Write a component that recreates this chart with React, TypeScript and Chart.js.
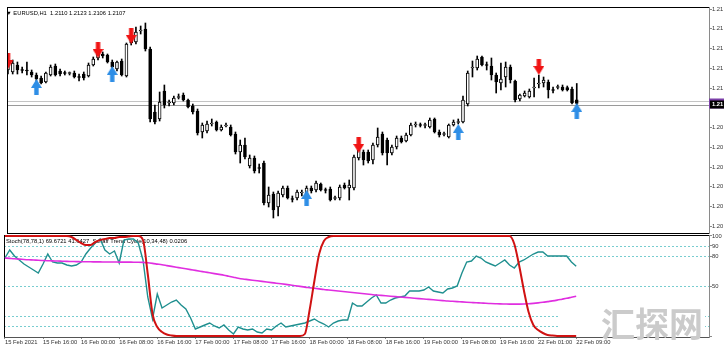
import React, { useEffect, useRef } from 'react';
import { Chart, registerables } from 'chart.js';
Chart.register(...registerables);

const FONT = "'Liberation Sans', Arial, sans-serif";

const opens = [
  1.21338, 1.21322, 1.21378, 1.21338, 1.21338, 1.21322, 1.21298, 1.21274, 1.21242, 1.21298,
  1.21370, 1.21330, 1.21314, 1.21310, 1.21314, 1.21282, 1.21306, 1.21290, 1.21378, 1.21434,
  1.21466, 1.21458, 1.21402, 1.21346, 1.21410, 1.21290, 1.21594, 1.21562, 1.21650, 1.21666,
  1.21506, 1.21002, 1.20946, 1.21170, 1.21074, 1.21074, 1.21118, 1.21138, 1.21098, 1.21050,
  1.21010, 1.20842, 1.20850, 1.20906, 1.20922, 1.20858, 1.20890, 1.20882, 1.20826, 1.20682,
  1.20738, 1.20570, 1.20634, 1.20554, 1.20594, 1.20274, 1.20346, 1.20242, 1.20338, 1.20394,
  1.20306, 1.20314, 1.20354, 1.20338, 1.20394, 1.20378, 1.20426, 1.20378, 1.20386, 1.20310,
  1.20314, 1.20418, 1.20394, 1.20394, 1.20634, 1.20682, 1.20682, 1.20618, 1.20738, 1.20826,
  1.20778, 1.20674, 1.20722, 1.20794, 1.20770, 1.20818, 1.20898, 1.20898, 1.20894, 1.20882,
  1.20946, 1.20842, 1.20822, 1.20802, 1.20898, 1.20918, 1.20922, 1.21066, 1.21354, 1.21354,
  1.21442, 1.21378, 1.21370, 1.21298, 1.21234, 1.21282, 1.21362, 1.21250, 1.21106, 1.21130,
  1.21122, 1.21194, 1.21226, 1.21234, 1.21242, 1.21178, 1.21198, 1.21202, 1.21198, 1.21186,
  1.21100,
];
const highs = [
  1.21434, 1.21418, 1.21402, 1.21362, 1.21402, 1.21338, 1.21314, 1.21290, 1.21322, 1.21378,
  1.21386, 1.21346, 1.21330, 1.21322, 1.21330, 1.21306, 1.21322, 1.21394, 1.21442, 1.21490,
  1.21482, 1.21466, 1.21418, 1.21410, 1.21426, 1.21554, 1.21626, 1.21682, 1.21690, 1.21714,
  1.21522, 1.21058, 1.21162, 1.21218, 1.21098, 1.21130, 1.21146, 1.21154, 1.21106, 1.21066,
  1.21026, 1.20914, 1.20930, 1.20946, 1.20930, 1.20898, 1.20914, 1.20898, 1.20842, 1.20778,
  1.20794, 1.20658, 1.20650, 1.20586, 1.20610, 1.20402, 1.20362, 1.20370, 1.20410, 1.20410,
  1.20330, 1.20378, 1.20378, 1.20410, 1.20410, 1.20450, 1.20434, 1.20394, 1.20402, 1.20330,
  1.20418, 1.20434, 1.20458, 1.20658, 1.20722, 1.20698, 1.20698, 1.20754, 1.20874, 1.20842,
  1.20794, 1.20738, 1.20810, 1.20810, 1.20834, 1.20914, 1.20922, 1.20914, 1.20914, 1.20954,
  1.20954, 1.20858, 1.20842, 1.20906, 1.20938, 1.20946, 1.21130, 1.21330, 1.21410, 1.21450,
  1.21450, 1.21402, 1.21434, 1.21314, 1.21394, 1.21402, 1.21378, 1.21258, 1.21146, 1.21170,
  1.21186, 1.21274, 1.21298, 1.21282, 1.21258, 1.21202, 1.21218, 1.21218, 1.21210, 1.21202,
  1.21230,
];
const lows = [
  1.21306, 1.21306, 1.21306, 1.21314, 1.21298, 1.21282, 1.21250, 1.21226, 1.21234, 1.21290,
  1.21290, 1.21290, 1.21298, 1.21298, 1.21274, 1.21250, 1.21258, 1.21282, 1.21370, 1.21418,
  1.21434, 1.21394, 1.21354, 1.21330, 1.21290, 1.21282, 1.21538, 1.21546, 1.21626, 1.21490,
  1.20922, 1.20906, 1.20930, 1.21034, 1.21050, 1.21058, 1.21106, 1.21090, 1.21034, 1.20986,
  1.20818, 1.20794, 1.20834, 1.20890, 1.20850, 1.20850, 1.20882, 1.20810, 1.20666, 1.20594,
  1.20626, 1.20554, 1.20514, 1.20514, 1.20258, 1.20242, 1.20154, 1.20170, 1.20322, 1.20306,
  1.20282, 1.20298, 1.20330, 1.20330, 1.20354, 1.20362, 1.20370, 1.20354, 1.20290, 1.20298,
  1.20298, 1.20386, 1.20298, 1.20378, 1.20618, 1.20578, 1.20594, 1.20586, 1.20722, 1.20658,
  1.20578, 1.20658, 1.20706, 1.20754, 1.20762, 1.20810, 1.20882, 1.20882, 1.20874, 1.20874,
  1.20834, 1.20802, 1.20810, 1.20794, 1.20890, 1.20906, 1.20914, 1.21050, 1.21282, 1.21338,
  1.21370, 1.21338, 1.21258, 1.21154, 1.21178, 1.21202, 1.21234, 1.21082, 1.21090, 1.21122,
  1.21114, 1.21122, 1.21194, 1.21202, 1.21114, 1.21154, 1.21186, 1.21170, 1.21170, 1.21066,
  1.21060,
];
const closes = [
  1.21394, 1.21394, 1.21338, 1.21334, 1.21330, 1.21298, 1.21266, 1.21234, 1.21314, 1.21362,
  1.21298, 1.21306, 1.21310, 1.21314, 1.21282, 1.21278, 1.21274, 1.21378, 1.21426, 1.21466,
  1.21450, 1.21402, 1.21362, 1.21402, 1.21298, 1.21546, 1.21554, 1.21642, 1.21658, 1.21506,
  1.20946, 1.20922, 1.21082, 1.21058, 1.21078, 1.21114, 1.21122, 1.21098, 1.21042, 1.21002,
  1.20834, 1.20898, 1.20906, 1.20914, 1.20858, 1.20882, 1.20894, 1.20818, 1.20682, 1.20738,
  1.20642, 1.20634, 1.20530, 1.20550, 1.20274, 1.20338, 1.20218, 1.20354, 1.20394, 1.20314,
  1.20302, 1.20362, 1.20358, 1.20394, 1.20370, 1.20434, 1.20378, 1.20374, 1.20298, 1.20314,
  1.20402, 1.20394, 1.20418, 1.20642, 1.20698, 1.20618, 1.20610, 1.20738, 1.20802, 1.20674,
  1.20674, 1.20722, 1.20794, 1.20762, 1.20818, 1.20898, 1.20902, 1.20894, 1.20898, 1.20938,
  1.20842, 1.20818, 1.20826, 1.20898, 1.20922, 1.20922, 1.21098, 1.21314, 1.21362, 1.21426,
  1.21378, 1.21374, 1.21298, 1.21242, 1.21266, 1.21362, 1.21258, 1.21098, 1.21138, 1.21154,
  1.21170, 1.21202, 1.21234, 1.21258, 1.21178, 1.21174, 1.21202, 1.21178, 1.21178, 1.21074,
  1.21070,
];

// signal arrows (bar index, price where the arrow sits)
const sellArrowIdx = [0, 19, 26, 74, 112];
const sellArrowPrice = [1.21410, 1.21498, 1.21610, 1.20738, 1.21362];
const buyArrowIdx = [6, 22, 63, 95, 120];
const buyArrowPrice = [1.21202, 1.21306, 1.20314, 1.20842, 1.21010];

// oscillator window
const stochMain = [
  78, 86, 80, 76, 72, 69, 66, 63, 72, 82,
  74, 73, 73, 71, 70, 71, 74, 82, 88, 93,
  97, 86, 82, 85, 73, 96, 97, 97, 93, 76,
  39, 17, 42, 28, 31, 34, 36, 31, 27, 18,
  7, 9, 11, 13, 10, 8, 11, 6, 2, 9,
  7, 6, 7, 4, 3, 7, 6, 10, 13, 9,
  10, 11, 12, 13, 15, 17, 14, 12, 9, 13,
  15, 16, 16, 33, 30, 30, 34, 38, 41, 33,
  33, 36, 38, 39, 40, 45, 45, 45, 46, 49,
  45, 44, 43, 47, 48, 50, 63, 74, 75, 80,
  78, 74, 72, 70, 73, 76, 71, 68, 74, 76,
  79, 82, 84, 84, 80, 80, 80, 80, 80, 74,
  69.67,
];
const stochSignal = [
  78, 77.6, 77.2, 76.9, 76.5, 76.2, 76, 75.7, 75.5, 75.3,
  75.1, 75, 74.8, 74.6, 74.5, 74.4, 74.3, 74.2, 74.2, 74.1,
  74.1, 74, 74, 74, 73.9, 73.9, 73.9, 73.8, 73.8, 73.6,
  73.2, 72.6, 71.9, 71.2, 70.4, 69.6, 68.8, 68, 67.2, 66.4,
  65.6, 64.8, 64, 63.2, 62.4, 61.6, 60.8, 59.8, 58.8, 57.8,
  57, 56.4, 55.8, 55.2, 54.6, 54, 53.4, 52.8, 52.2, 51.6,
  51, 50.3, 49.6, 48.9, 48.3, 47.7, 47.1, 46.5, 46, 45.5,
  45, 44.5, 44, 43.5, 43, 42.5, 42, 41.5, 41, 40.6,
  40.2, 39.8, 39.4, 39, 38.6, 38.2, 37.8, 37.4, 37, 36.6,
  36.2, 35.8, 35.4, 35, 34.7, 34.4, 34.1, 33.8, 33.5, 33.2,
  33, 32.7, 32.5, 32.3, 32.1, 32, 31.9, 31.9, 31.9, 32,
  32.2, 32.6, 33.1, 33.7, 34.4, 35.1, 35.9, 36.8, 37.7, 38.7,
  39.7,
];
const schaff = [
  100, 100, 100, 100, 100, 100, 100, 100, 100, 100,
  100, 100, 100, 100, 99, 96, 93, 91, 91, 94,
  96, 97, 98, 98, 99, 99, 99.5, 100, 100, 96,
  62, 22, 9, 4, 1.5, 0.5, 0, 0, 0, 0,
  0, 0, 0, 0, 0, 0, 0, 0, 0, 0,
  0, 0, 0, 0, 0, 0, 0, 0, 0, 0,
  0, 0, 0, 2, 26, 55, 82, 95, 99, 100,
  100, 100, 100, 100, 100, 100, 100, 100, 100, 100,
  100, 100, 100, 100, 100, 100, 100, 100, 100, 100,
  100, 100, 100, 100, 100, 100, 100, 100, 100, 100,
  100, 100, 100, 100, 100, 100, 100, 92, 71, 46,
  24, 11, 6, 3, 1, 0.4, 0.1, 0.1, 0.1, 0.1,
  0.02,
];
const oscLevels = [90, 80, 50, 20, 10];

// axes
const priceMin = 1.20034;
const priceMax = 1.21842;
const priceTicks = [1.21826, 1.21668, 1.2151, 1.21352, 1.21194, 1.20878, 1.2072, 1.20562, 1.20404, 1.20246, 1.20088];
const priceLines = [1.21086, 1.21058];
const currentPrice = 1.2107;
const currentPriceLabel = '1.21';
const oscTicks = [100, 90, 80, 50, 0];
const oscTickLabels = ['100', '90', '80', '50', ''];
const xTickIdx = [0, 8, 16, 24, 32, 40, 48, 56, 64, 72, 80, 88, 96, 104, 112, 120];
const xTickLabels = [
  '15 Feb 2021', '15 Feb 16:00', '16 Feb 00:00', '16 Feb 08:00', '16 Feb 16:00', '17 Feb 00:00',
  '17 Feb 08:00', '17 Feb 16:00', '18 Feb 00:00', '18 Feb 08:00', '18 Feb 16:00', '19 Feb 00:00',
  '19 Feb 08:00', '19 Feb 16:00', '22 Feb 01:00', '22 Feb 09:00',
];
const xMin = -0.2;
const xMax = 147.9;

const mainTitle = '\u25BC EURUSD,H1  1.2110 1.2123 1.2106 1.2107';
const oscTitle = 'Stoch(78,78,1) 69.6721 41.6427  Schaff Trend Cycle(10,34,48) 0.0206';
const watermark = '汇探网';

function makeArrow(color: string, up: boolean): HTMLCanvasElement {
  const c = document.createElement('canvas');
  c.width = 11;
  c.height = 16;
  const g = c.getContext('2d')!;
  if (up) {
    g.translate(0, 16);
    g.scale(1, -1);
  }
  g.fillStyle = color;
  g.beginPath();
  g.moveTo(3.3, 0);
  g.lineTo(7.7, 0);
  g.lineTo(7.7, 7);
  g.lineTo(11, 7);
  g.lineTo(5.5, 16);
  g.lineTo(0, 7);
  g.lineTo(3.3, 7);
  g.closePath();
  g.fill();
  return c;
}

const tickFont = { family: FONT, size: 5.8 };

export default function App() {
  const mainRef = useRef<HTMLCanvasElement>(null);
  const oscRef = useRef<HTMLCanvasElement>(null);

  useEffect(() => {
    const redArrow = makeArrow('#f01414', false);
    const blueArrow = makeArrow('#2e8ee6', true);

    const wicks = highs.map((h, i) => ({ x: i, y: [lows[i], h] }));
    const bodies = opens.map((o, i) => ({ x: i, y: [o, closes[i]] }));
    const bodyColors = opens.map((o, i) => (closes[i] >= o ? '#ffffff' : '#000000'));

    const mainPlugin = {
      id: 'mainDecor',
      beforeDatasetsDraw(chart: any) {
        const { ctx, chartArea: a, scales } = chart;
        ctx.save();
        priceLines.forEach((p, k) => {
          const y = Math.round(scales.y.getPixelForValue(p)) + 0.5;
          ctx.strokeStyle = k === 0 ? '#c4c4c4' : '#9a9a9a';
          ctx.lineWidth = 1;
          ctx.beginPath();
          ctx.moveTo(a.left, y);
          ctx.lineTo(a.right, y);
          ctx.stroke();
        });
        ctx.restore();
      },
      afterDraw(chart: any) {
        const { ctx, chartArea: a, scales } = chart;
        ctx.save();
        ctx.strokeStyle = '#000';
        ctx.lineWidth = 1;
        ctx.beginPath();
        ctx.moveTo(a.left, a.top + 0.5);
        ctx.lineTo(a.right, a.top + 0.5);
        ctx.moveTo(a.left + 0.5, a.top);
        ctx.lineTo(a.left + 0.5, a.bottom);
        ctx.moveTo(a.left, a.bottom + 0.5);
        ctx.lineTo(a.right, a.bottom + 0.5);
        ctx.stroke();
        ctx.fillStyle = '#000';
        ctx.font = `5.8px ${FONT}`;
        ctx.textBaseline = 'middle';
        ctx.textAlign = 'left';
        ctx.fillText(mainTitle, 6, 13.5);
        const cy = scales.y.getPixelForValue(currentPrice);
        ctx.fillStyle = '#7b3fa8';
        ctx.fillRect(a.right, cy - 5, 724 - a.right, 10);
        ctx.fillStyle = '#000';
        ctx.fillRect(a.right + 1, cy - 3, 724 - a.right, 8);
        ctx.fillStyle = '#fff';
        ctx.font = `bold 5.8px ${FONT}`;
        ctx.fillText(currentPriceLabel, a.right + 3, cy + 1);
        ctx.restore();
      },
    };

    const main = new Chart(mainRef.current!, {
      type: 'bar',
      data: {
        datasets: [
          {
            type: 'scatter',
            data: sellArrowIdx.map((x, k) => ({ x, y: sellArrowPrice[k] })),
            pointStyle: redArrow as any,
            pointRadius: 6,
            order: 0,
          } as any,
          {
            type: 'scatter',
            data: buyArrowIdx.map((x, k) => ({ x, y: buyArrowPrice[k] })),
            pointStyle: blueArrow as any,
            pointRadius: 6,
            order: 0,
          } as any,
          {
            type: 'bar',
            data: bodies as any,
            backgroundColor: bodyColors,
            borderColor: '#000',
            borderWidth: 1,
            borderSkipped: false,
            barThickness: 3,
            minBarLength: 1,
            grouped: false,
            order: 1,
          } as any,
          {
            type: 'bar',
            data: wicks as any,
            backgroundColor: '#000',
            borderWidth: 0,
            barThickness: 1,
            grouped: false,
            order: 2,
          } as any,
        ],
      },
      options: {
        animation: false,
        responsive: false,
        maintainAspectRatio: false,
        events: [],
        layout: { padding: { left: 4, top: 7, right: 0, bottom: 7 } },
        plugins: { legend: { display: false }, tooltip: { enabled: false } },
        scales: {
          x: { type: 'linear', min: xMin, max: xMax, display: false, offset: false },
          y: {
            type: 'linear',
            position: 'right',
            min: priceMin,
            max: priceMax,
            afterBuildTicks: (s: any) => {
              s.ticks = priceTicks.map((v) => ({ value: v }));
            },
            afterFit: (s: any) => {
              s.width = 15;
            },
            ticks: {
              autoSkip: false,
              padding: 0,
              color: '#333',
              font: tickFont,
              callback: (v: any) => Number(v).toFixed(5).slice(0, 4),
            },
            grid: { drawOnChartArea: false, drawTicks: true, tickLength: 3, color: '#8a8a8a' },
            border: { display: true, color: '#8a8a8a' },
          },
        } as any,
      },
      plugins: [mainPlugin],
    });

    const oscPlugin = {
      id: 'oscDecor',
      beforeDatasetsDraw(chart: any) {
        const { ctx, chartArea: a, scales } = chart;
        ctx.save();
        ctx.strokeStyle = '#78cdd0';
        ctx.lineWidth = 1;
        ctx.setLineDash([2, 2]);
        oscLevels.forEach((lv) => {
          const y = Math.round(scales.y.getPixelForValue(lv)) + 0.5;
          ctx.beginPath();
          ctx.moveTo(a.left, y);
          ctx.lineTo(a.right, y);
          ctx.stroke();
        });
        ctx.setLineDash([]);
        ctx.fillStyle = '#fff';
        ctx.fillRect(560, 72, 145, 34);
        ctx.fillStyle = '#000';
        ctx.font = `5.8px ${FONT}`;
        ctx.textBaseline = 'middle';
        ctx.textAlign = 'left';
        ctx.fillText(oscTitle, 6, 13);
        ctx.strokeStyle = '#000';
        ctx.beginPath();
        ctx.moveTo(a.left, a.top + 0.5);
        ctx.lineTo(a.right, a.top + 0.5);
        ctx.moveTo(a.left + 0.5, a.top);
        ctx.lineTo(a.left + 0.5, a.bottom);
        ctx.stroke();
        ctx.restore();
      },
      afterDraw(chart: any) {
        const { ctx } = chart;
        ctx.save();
        ctx.fillStyle = '#cbcbcb';
        ctx.font = `bold 34px 'Noto Sans CJK SC'`;
        ctx.textBaseline = 'middle';
        ctx.textAlign = 'left';
        ctx.fillText(watermark, 601, 96);
        ctx.restore();
      },
    };

    const osc = new Chart(oscRef.current!, {
      type: 'line',
      data: {
        datasets: [
          {
            data: stochMain.map((v, i) => ({ x: i, y: v })),
            borderColor: '#1f8f8f',
            borderWidth: 1.4,
            pointRadius: 0,
            tension: 0,
            order: 2,
          },
          {
            data: stochSignal.map((v, i) => ({ x: i, y: v })),
            borderColor: '#e02ee0',
            borderWidth: 1.6,
            pointRadius: 0,
            cubicInterpolationMode: 'monotone',
            order: 1,
          },
          {
            data: schaff.map((v, i) => ({ x: i, y: v })),
            borderColor: '#d01212',
            borderWidth: 2,
            pointRadius: 0,
            cubicInterpolationMode: 'monotone',
            order: 0,
          },
        ] as any,
      },
      options: {
        animation: false,
        responsive: false,
        maintainAspectRatio: false,
        events: [],
        layout: { padding: { left: 4, top: 7, right: 0, bottom: 0 } },
        plugins: { legend: { display: false }, tooltip: { enabled: false } },
        scales: {
          x: {
            type: 'linear',
            min: xMin,
            max: xMax,
            offset: false,
            afterBuildTicks: (s: any) => {
              s.ticks = xTickIdx.map((v) => ({ value: v }));
            },
            afterFit: (s: any) => {
              s.height = 10;
            },
            ticks: {
              autoSkip: false,
              maxRotation: 0,
              minRotation: 0,
              align: 'start',
              padding: 0,
              color: '#333',
              font: tickFont,
              callback: (v: any) => {
                const k = xTickIdx.indexOf(Number(v));
                return k >= 0 ? xTickLabels[k] : '';
              },
            },
            grid: { drawOnChartArea: false, drawTicks: true, tickLength: 2, color: '#8a8a8a' },
            border: { display: true, color: '#555' },
          },
          y: {
            type: 'linear',
            position: 'right',
            min: -1,
            max: 101,
            afterBuildTicks: (s: any) => {
              s.ticks = oscTicks.map((v) => ({ value: v }));
            },
            afterFit: (s: any) => {
              s.width = 15;
            },
            ticks: {
              autoSkip: false,
              padding: 0,
              color: '#333',
              font: tickFont,
              callback: (v: any) => {
                const k = oscTicks.indexOf(Number(v));
                return k >= 0 ? oscTickLabels[k] : '';
              },
            },
            grid: { drawOnChartArea: false, drawTicks: true, tickLength: 3, color: '#8a8a8a' },
            border: { display: true, color: '#8a8a8a' },
          },
        } as any,
      },
      plugins: [oscPlugin],
    });

    return () => {
      main.destroy();
      osc.destroy();
    };
  }, []);

  return (
    <div style={{ position: 'absolute', left: 0, top: 0, width: 724, height: 347, background: '#fff' }}>
      <canvas ref={mainRef} width={724} height={240} style={{ position: 'absolute', left: 0, top: 0 }} />
      <canvas ref={oscRef} width={724} height={119} style={{ position: 'absolute', left: 0, top: 228 }} />
    </div>
  );
}
